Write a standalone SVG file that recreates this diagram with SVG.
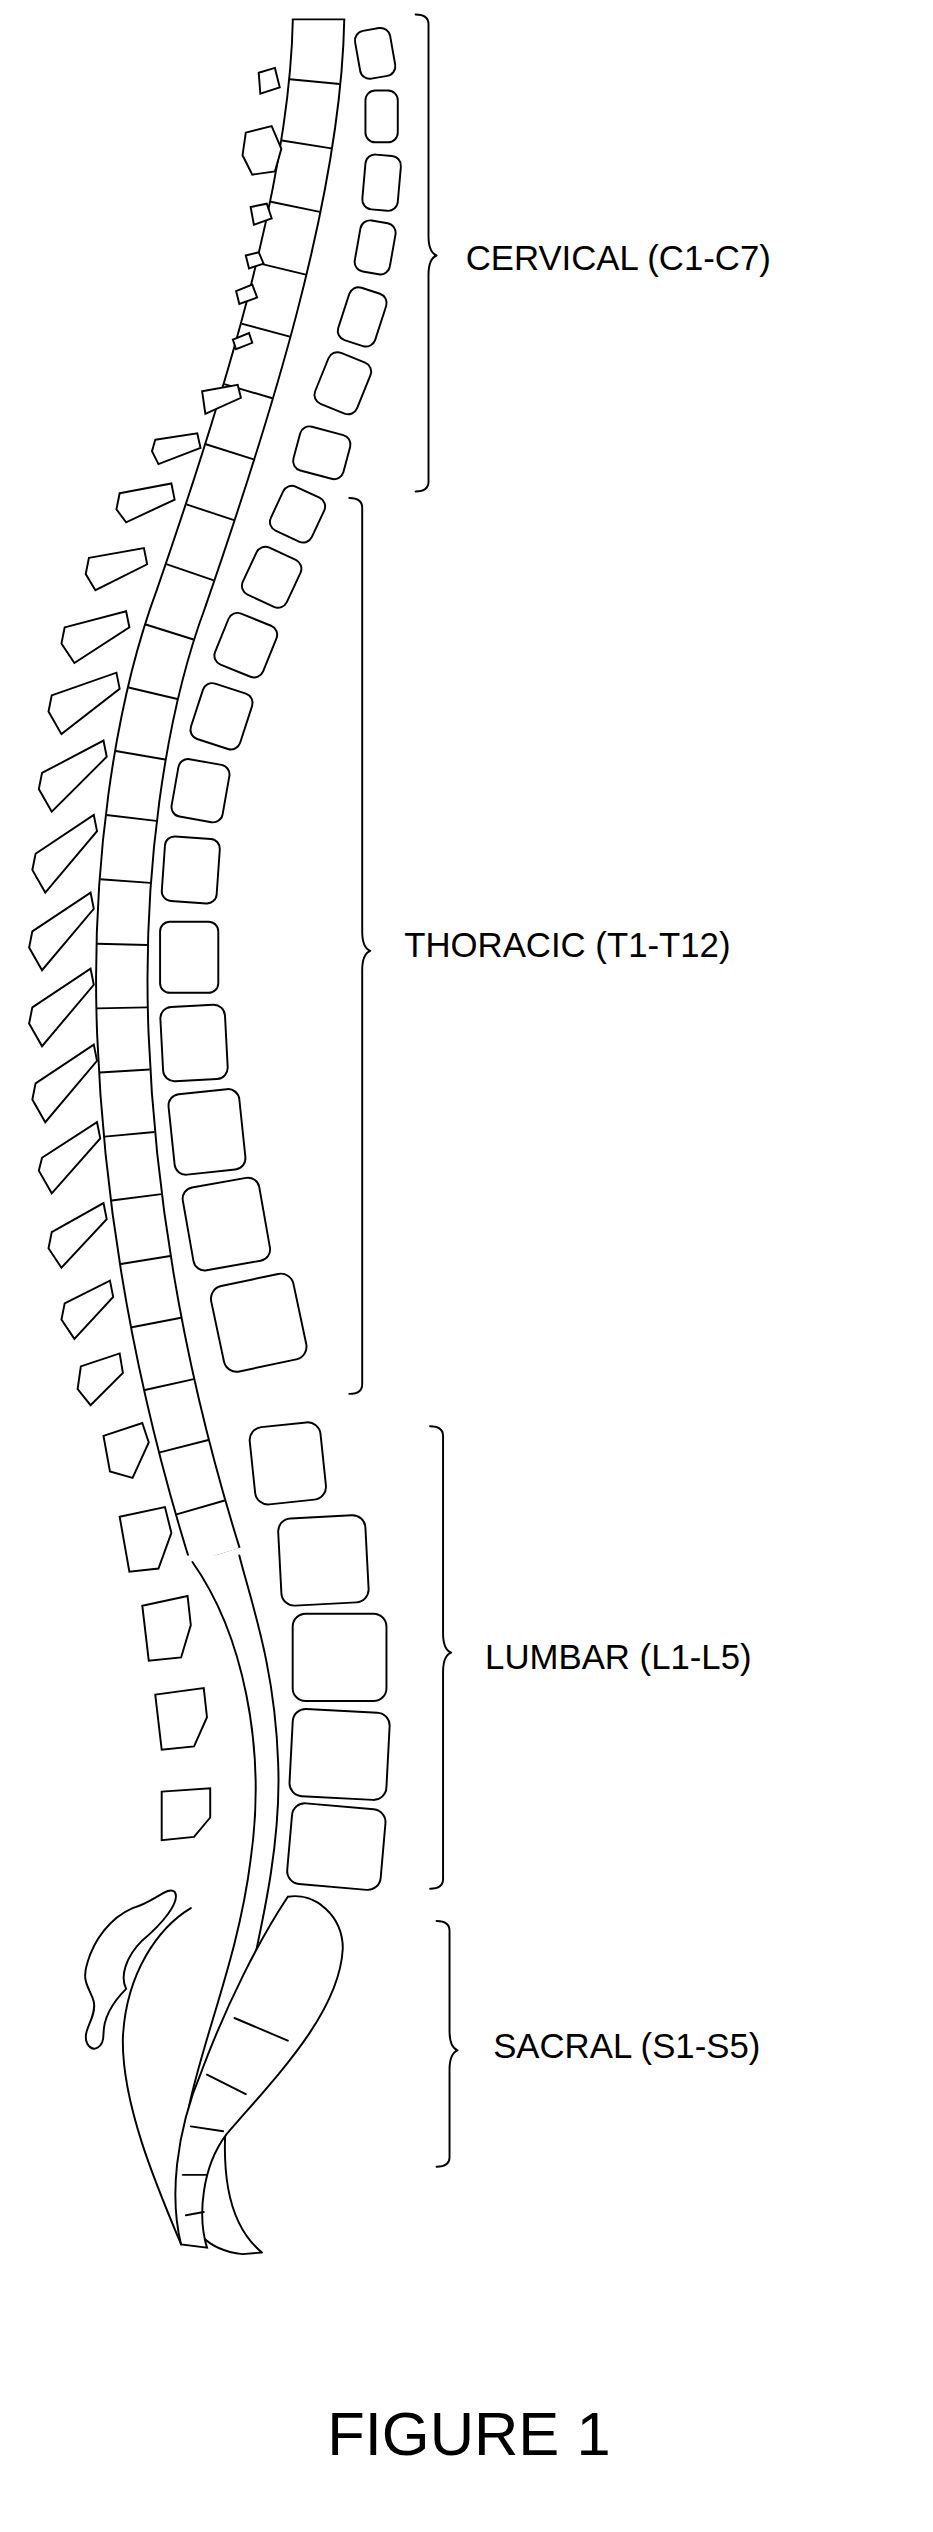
<svg xmlns="http://www.w3.org/2000/svg" width="933" height="2532" viewBox="0 0 933 2532">
<style>
.s{fill:none;stroke:#000;stroke-width:1.2;stroke-linejoin:round;stroke-linecap:round}
.b{fill:#fff;stroke:#000;stroke-width:1.2}
.t{font-family:"Liberation Sans",Arial,sans-serif;fill:#000}
</style>
<rect width="933" height="2532" fill="#fff"/>
<g transform="scale(1.617)">
<g id="canal">
<path d="M197,12 C195,120 150,260 112,370 C86,440 72,540 76,640 C80,740 98,850 133,962" fill="none" stroke="#000" stroke-width="33" stroke-linejoin="round"/>
<path d="M197,12 C195,120 150,260 112,370 C86,440 72,540 76,640 C80,740 98,850 133,962" fill="none" stroke="#fff" stroke-width="30.6" stroke-linejoin="round"/>
<path d="M197,12 C195,120 150,260 112,370 C86,440 72,540 76,640 C80,740 98,850 133,962" fill="none" stroke="#000" stroke-width="31" stroke-dasharray="1.2 38" stroke-dashoffset="-38"/>
<rect x="170" y="0" width="60" height="12" fill="#fff"/>
<path class="s" d="M181,12 L213,12"/>
<rect x="100" y="962" width="60" height="20" fill="#fff"/>
<path class="s" d="M119,966 C150,1010 165,1080 155,1150 C145,1230 110,1290 112,1350 C114,1380 130,1392 150,1394 L162,1393 C140,1375 135,1340 142,1290 C150,1230 175,1160 172,1090 C170,1030 155,990 148,962"/>
</g>
<g id="vertebral-bodies">
<rect class="b" x="-11" y="-15" width="22" height="30" rx="6" transform="translate(232,33) rotate(-10)"/>
<rect class="b" x="-10" y="-16" width="20" height="32" rx="6" transform="translate(236,72)"/>
<rect class="b" x="-11" y="-17" width="22" height="34" rx="6" transform="translate(236,113) rotate(5)"/>
<rect class="b" x="-11" y="-16" width="22" height="32" rx="6" transform="translate(232,153) rotate(10)"/>
<rect class="b" x="-12" y="-17" width="24" height="34" rx="6" transform="translate(224,196) rotate(18)"/>
<rect class="b" x="-14" y="-17" width="28" height="34" rx="6" transform="translate(212,237) rotate(22)"/>
<rect class="b" x="-16" y="-14" width="32" height="28" rx="6" transform="translate(199,280) rotate(15)"/>
<rect class="b" x="-14" y="-15" width="28" height="30" rx="6" transform="translate(184,318) rotate(25)"/>
<rect class="b" x="-15" y="-16" width="30" height="32" rx="6" transform="translate(168,357) rotate(25)"/>
<rect class="b" x="-16" y="-17" width="32" height="34" rx="6" transform="translate(152,399) rotate(22)"/>
<rect class="b" x="-16" y="-18" width="32" height="36" rx="6" transform="translate(137,443) rotate(18)"/>
<rect class="b" x="-16" y="-18" width="32" height="36" rx="6" transform="translate(124,489) rotate(10)"/>
<rect class="b" x="-17" y="-20" width="34" height="40" rx="6" transform="translate(118,538) rotate(4)"/>
<rect class="b" x="-18" y="-22" width="36" height="44" rx="6" transform="translate(117,592)"/>
<rect class="b" x="-20" y="-23" width="40" height="46" rx="7" transform="translate(120,645) rotate(-3)"/>
<rect class="b" x="-22" y="-25" width="44" height="50" rx="7" transform="translate(128,700) rotate(-6)"/>
<rect class="b" x="-24" y="-26" width="48" height="52" rx="7" transform="translate(140,757) rotate(-10)"/>
<rect class="b" x="-26" y="-27" width="52" height="54" rx="8" transform="translate(160,818) rotate(-12)"/>
<rect class="b" x="-22" y="-24" width="44" height="48" rx="8" transform="translate(178,905) rotate(-6)"/>
<rect class="b" x="-27" y="-27" width="54" height="54" rx="8" transform="translate(200,965) rotate(-3)"/>
<rect class="b" x="-29" y="-27" width="58" height="54" rx="8" transform="translate(210,1025)"/>
<rect class="b" x="-30" y="-27" width="60" height="54" rx="8" transform="translate(210,1085) rotate(3)"/>
<rect class="b" x="-29" y="-25" width="58" height="50" rx="8" transform="translate(208,1142) rotate(5)"/>
</g>
<g id="sacrum">
<path class="b" d="M178,1173 C195,1170 212,1185 212,1205 C210,1245 170,1285 140,1320 C125,1340 122,1370 128,1390 L112,1388 C105,1360 108,1320 125,1280 C140,1240 160,1200 178,1173 Z"/>
<path class="s" d="M145,1248 L178,1262 M128,1283 L152,1295 M118,1315 L138,1318 M113,1345 L128,1345 M115,1370 L126,1368"/>
</g>
<g id="processes">
<path class="b" d="M160,45 l10,-3 l3,12 l-12,4z"/>
<path class="b" d="M152,82 l16,-4 l6,14 l-4,14 l-14,2 l-6,-12z"/>
<path class="b" d="M155,128 l10,-2 l3,9 l-11,4z"/>
<path class="b" d="M152,158 l8,-2 l3,7 l-9,3z"/>
<path class="b" d="M146,180 l10,-4 l3,8 l-11,4z"/>
<path class="b" d="M144,210 l10,-4 l2,6 l-10,4z"/>
<path class="b" d="M125,242 l22,-4 l2,8 l-22,10z"/>
<path class="b" d="M96,272 l26,-4 l2,9 l-26,10 l-4,-8z"/>
<path class="b" d="M74,305 l32,-6 l2,10 l-30,14 l-6,-8z"/>
<path class="b" d="M55,345 l34,-6 l2,10 l-32,16 l-6,-10z"/>
<path class="b" d="M40,388 l38,-10 l2,10 l-34,22 l-8,-12z"/>
<path class="b" d="M32,430 l40,-14 l2,10 l-36,28 l-8,-14z"/>
<path class="b" d="M26,478 l38,-20 l2,10 l-34,34 l-8,-14z"/>
<path class="b" d="M22,528 l36,-24 l2,10 l-32,38 l-8,-14z"/>
<path class="b" d="M20,576 l36,-24 l2,10 l-32,38 l-8,-14z"/>
<path class="b" d="M20,623 l36,-24 l2,10 l-32,38 l-8,-14z"/>
<path class="b" d="M22,670 l36,-24 l2,10 l-32,38 l-8,-14z"/>
<path class="b" d="M26,716 l34,-22 l2,10 l-30,34 l-8,-14z"/>
<path class="b" d="M32,762 l32,-18 l2,10 l-28,30 l-8,-12z"/>
<path class="b" d="M40,806 l28,-14 l2,10 l-24,26 l-8,-12z"/>
<path class="b" d="M50,845 l24,-8 l2,12 l-20,20 l-8,-10z"/>
<path class="b" d="M64,888 l24,-8 l4,12 l-10,22 l-14,-4 z"/>
<path class="b" d="M74,938 l28,-6 l4,16 l-8,22 l-18,2 z"/>
<path class="b" d="M88,993 l28,-6 l2,18 l-6,20 l-20,2 z"/>
<path class="b" d="M96,1048 l30,-4 l2,18 l-8,18 l-20,2 z"/>
<path class="b" d="M100,1108 l30,-2 l0,18 l-10,12 l-20,2 z"/>
<path class="b" d="M82,1180 c14,-4 22,-14 26,-10 c4,6 -8,20 -20,30 c-10,10 -14,22 -10,30 c-6,6 -14,16 -14,28 c0,8 -6,12 -10,6 c-4,-8 6,-16 4,-26 c-2,-8 -8,-12 -4,-24 c4,-14 14,-28 28,-34z"/>
<path class="s" d="M118,1180 c-20,12 -40,40 -42,80 c-1,40 20,90 36,128"/>
</g>
<g id="brackets">
<path class="s" d="M257,9 q8,0 8,6 L265,146 q0,10 5,12 q-5,2 -5,12 L265,298 q0,6 -8,6"/>
<path class="s" d="M216,308 q8,0 8,6 L224,576 q0,10 5,12 q-5,2 -5,12 L224,856 q0,6 -8,6"/>
<path class="s" d="M266,882 q8,0 8,6 L274,1010 q0,10 5,12 q-5,2 -5,12 L274,1162 q0,6 -8,6"/>
<path class="s" d="M270,1188 q8,0 8,6 L278,1256 q0,10 5,12 q-5,2 -5,12 L278,1334 q0,6 -8,6"/>
</g>
<g id="labels">
<text class="t" x="288" y="167" font-size="21.5">CERVICAL (C1-C7)</text>
<text class="t" x="250" y="592" font-size="21.5">THORACIC (T1-T12)</text>
<text class="t" x="300" y="1032" font-size="21.5">LUMBAR (L1-L5)</text>
<text class="t" x="305" y="1273" font-size="21.5">SACRAL (S1-S5)</text>
<text class="t" x="290" y="1518" font-size="38" text-anchor="middle">FIGURE 1</text>
</g>
</g>
</svg>
